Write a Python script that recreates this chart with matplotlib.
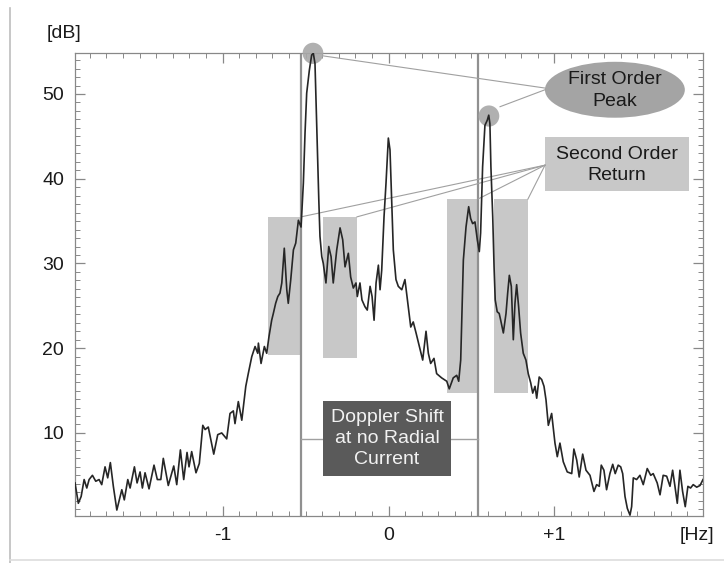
import matplotlib
matplotlib.use("Agg")
import matplotlib.pyplot as plt
from matplotlib.patches import Rectangle, Ellipse
from matplotlib.lines import Line2D
from matplotlib.ticker import MultipleLocator, FixedLocator

plt.rcParams['font.family'] = ['Liberation Sans', 'DejaVu Sans']

# Doppler spectrum
freq_hz = [
    -1.889, -1.869, -1.852, -1.834, -1.818, -1.804, -1.784, -1.764, -1.744, -1.728,
    -1.708, -1.692, -1.676, -1.658, -1.637, -1.617, -1.607, -1.592, -1.571, -1.557,
    -1.531, -1.515, -1.497, -1.483, -1.467, -1.443, -1.413, -1.393, -1.372, -1.357,
    -1.327, -1.294, -1.276, -1.254, -1.234, -1.214, -1.202, -1.186, -1.160, -1.140,
    -1.119, -1.105, -1.086, -1.053, -1.029, -1.005, -0.975, -0.955, -0.935, -0.925,
    -0.905, -0.884, -0.860, -0.845, -0.824, -0.804, -0.788, -0.784, -0.768, -0.748,
    -0.734, -0.720, -0.704, -0.694, -0.680, -0.667, -0.654, -0.643, -0.628, -0.613,
    -0.604, -0.589, -0.573, -0.559, -0.543, -0.527, -0.513, -0.503, -0.493, -0.477,
    -0.463, -0.453, -0.443, -0.437, -0.429, -0.420, -0.413, -0.402, -0.393, -0.377,
    -0.360, -0.346, -0.333, -0.312, -0.292, -0.276, -0.262, -0.242, -0.228, -0.212,
    -0.196, -0.188, -0.172, -0.160, -0.142, -0.128, -0.111, -0.099, -0.087, -0.075,
    -0.061, -0.051, -0.041, -0.027, -0.015, -0.001, 0.009, 0.019, 0.029, 0.045,
    0.059, 0.080, 0.099, 0.119, 0.134, 0.149, 0.166, 0.186, 0.206, 0.226,
    0.240, 0.254, 0.274, 0.290, 0.320, 0.351, 0.366, 0.390, 0.411, 0.423,
    0.435, 0.451, 0.467, 0.483, 0.495, 0.507, 0.521, 0.535, 0.547, 0.555,
    0.567, 0.581, 0.595, 0.604, 0.611, 0.617, 0.628, 0.636, 0.643, 0.655,
    0.667, 0.676, 0.692, 0.708, 0.718, 0.728, 0.740, 0.752, 0.762, 0.772,
    0.784, 0.796, 0.812, 0.828, 0.842, 0.857, 0.869, 0.883, 0.893, 0.908,
    0.923, 0.937, 0.949, 0.963, 0.983, 1.003, 1.017, 1.033, 1.053, 1.077,
    1.104, 1.117, 1.134, 1.149, 1.170, 1.190, 1.214, 1.238, 1.254, 1.270,
    1.282, 1.298, 1.314, 1.334, 1.351, 1.366, 1.384, 1.399, 1.411, 1.425,
    1.439, 1.455, 1.465, 1.475, 1.495, 1.515, 1.535, 1.559, 1.580, 1.595,
    1.619, 1.636, 1.655, 1.676, 1.696, 1.712, 1.726, 1.740, 1.756, 1.772,
    1.788, 1.804, 1.820, 1.836, 1.857, 1.877, 1.895,
]
level_db = [
    4.1, 1.7, 2.5, 4.5, 3.5, 4.5, 5.0, 4.3, 4.5, 3.9,
    6.0, 4.7, 6.5, 3.7, 0.9, 2.5, 3.3, 2.1, 4.5, 3.5,
    6.0, 4.1, 5.4, 3.5, 5.3, 3.4, 6.2, 4.5, 4.5, 7.0,
    3.8, 6.1, 3.9, 8.0, 4.5, 7.7, 6.0, 7.8, 5.3, 6.4,
    10.9, 10.4, 10.7, 7.5, 9.8, 10.0, 9.3, 12.3, 12.6, 11.1,
    13.7, 11.5, 15.5, 17.0, 19.0, 20.2, 19.4, 20.6, 18.2, 20.2,
    19.4, 21.4, 23.3, 24.1, 25.3, 26.1, 26.5, 27.7, 31.8, 26.9,
    25.3, 28.1, 31.6, 32.4, 35.1, 34.3, 39.5, 45.4, 50.1, 52.8,
    54.6, 54.8, 53.6, 49.3, 43.4, 37.5, 33.2, 30.8, 30.0, 27.7,
    32.0, 30.8, 27.7, 31.6, 34.2, 32.8, 29.6, 31.2, 28.4, 27.1,
    27.7, 26.1, 27.7, 25.7, 24.9, 24.5, 27.3, 26.1, 23.3, 27.7,
    29.8, 26.9, 29.2, 35.5, 39.5, 44.8, 43.4, 37.5, 31.6, 28.1,
    27.3, 26.9, 28.1, 24.9, 22.5, 23.1, 21.8, 20.2, 18.6, 22.0,
    19.4, 18.2, 18.8, 17.0, 16.5, 16.1, 15.2, 16.5, 16.8, 16.1,
    18.6, 30.4, 34.3, 36.7, 35.3, 34.7, 34.9, 32.8, 31.4, 33.6,
    41.4, 46.3, 46.9, 47.5, 46.5, 41.4, 35.5, 29.6, 25.7, 24.3,
    24.1, 23.3, 21.8, 24.1, 26.5, 28.6, 27.3, 21.0, 25.3, 27.5,
    24.9, 21.8, 19.4, 18.6, 17.0, 15.9, 14.7, 15.5, 14.1, 16.6,
    16.3, 15.5, 13.9, 10.9, 12.3, 8.8, 7.2, 8.8, 6.6, 5.4,
    5.2, 8.1, 6.8, 4.8, 7.5, 5.6, 5.0, 3.1, 3.9, 3.7,
    6.2, 5.6, 3.3, 5.2, 6.3, 5.2, 6.2, 6.0, 5.2, 2.5,
    1.1, 0.3, 1.3, 4.7, 4.5, 5.0, 3.9, 5.8, 5.0, 5.2,
    4.1, 2.7, 5.0, 4.9, 3.7, 5.6, 3.7, 1.7, 5.6, 3.1,
    1.3, 3.7, 3.5, 3.9, 3.6, 3.8, 4.5,
]

# second order regions: (f_lo, f_hi, db_lo, db_hi)
second_order_boxes = [
    (-0.726, -0.527, 19.2, 35.5),
    (-0.395, -0.190, 18.9, 35.5),
    (0.352, 0.539, 14.7, 37.6),
    (0.636, 0.840, 14.7, 37.6),
]
# first order peaks (f, dB)
peak_f = [-0.455, 0.605]
peak_db = [54.8, 47.4]
# Bragg lines (Doppler shift with no radial current)
bragg_f = [-0.527, 0.539]
bragg_link_db = 9.3

x_ticks = [-1, 0, 1]
x_tick_labels = ["-1", "0", "+1"]
y_ticks = [10, 20, 30, 40, 50]

fig = plt.figure(figsize=(7.24, 5.63), dpi=100)
ax = fig.add_axes([0.1036, 0.0835, 0.8674, 0.8224])

line_grey = "#a0a0a0"
box_grey = "#c8c8c8"

for f0, f1, d0, d1 in second_order_boxes:
    ax.add_patch(Rectangle((f0, d0), f1 - f0, d1 - d0, facecolor=box_grey,
                           edgecolor="none", zorder=1))

for fb in bragg_f:
    ax.axvline(fb, color="#909090", lw=1.6, zorder=2)
ax.plot(bragg_f, [bragg_link_db, bragg_link_db], color=line_grey, lw=1.0, zorder=2)

ax.plot(freq_hz, level_db, color="#262626", lw=1.2, zorder=4)

for pf, pd in zip(peak_f, peak_db):
    ax.add_patch(Ellipse((pf, pd), 0.125, 2.5, facecolor="#a8a8a8", edgecolor="none",
                         alpha=0.9, zorder=3, clip_on=False))

# callout boxes
ax.add_patch(Ellipse((1.364, 50.5), 0.843, 6.6, facecolor="#a4a4a4", edgecolor="none",
                     zorder=3, clip_on=False))
ax.text(1.364, 50.4, "First Order\nPeak", ha="center", va="center", fontsize=14,
        color="#1a1a1a", linespacing=1.35, zorder=5)

ax.add_patch(Rectangle((0.943, 38.5), 0.867, 6.4, facecolor=box_grey, edgecolor="none",
                       zorder=3))
ax.text(1.376, 41.6, "Second Order\nReturn", ha="center", va="center", fontsize=14,
        color="#1a1a1a", linespacing=1.35, zorder=5)

ax.add_patch(Rectangle((-0.395, 4.93), 0.772, 8.85, facecolor="#5a5a5a", edgecolor="none",
                       zorder=5))
ax.text(-0.009, 9.3, "Doppler Shift\nat no Radial\nCurrent", ha="center", va="center",
        fontsize=14, color="#f2f2f2", linespacing=1.3, zorder=6)

# leader lines
ax.plot([-0.395, 0.943], [54.5, 50.7], color=line_grey, lw=0.8, zorder=3, clip_on=False)
ax.plot([0.672, 0.943], [48.5, 50.5], color=line_grey, lw=0.8, zorder=3)
for f0, f1, d0, d1 in second_order_boxes:
    ax.plot([f1, 0.943], [d1, 41.6], color=line_grey, lw=0.8, zorder=3)

ax.set_xlim(-1.889, 1.895)
ax.set_ylim(0.2, 54.84)

ax.xaxis.set_major_locator(FixedLocator(x_ticks))
ax.set_xticklabels(x_tick_labels)
ax.xaxis.set_minor_locator(MultipleLocator(0.1))
ax.yaxis.set_major_locator(FixedLocator(y_ticks))
ax.yaxis.set_minor_locator(MultipleLocator(1))
ax.tick_params(which="both", direction="in", top=True, right=True, color="#888888",
               labelsize=14, labelcolor="#1a1a1a")
ax.tick_params(which="major", length=7, width=0.9, pad=8)
ax.tick_params(which="minor", length=3.5, width=0.7)
for sp in ax.spines.values():
    sp.set_color("#888888")
    sp.set_linewidth(0.9)

fig.text(64 / 724, 1 - 33 / 563, "[dB]", ha="center", va="center", fontsize=14,
         color="#1a1a1a")
fig.text(697 / 724, 1 - 535 / 563, "[Hz]", ha="center", va="center", fontsize=14,
         color="#1a1a1a")

# faint frame of the original figure
fig.add_artist(Line2D([10 / 724, 10 / 724], [0.0, 1 - 8 / 563], color="#bdbdbd", lw=1.2))
fig.add_artist(Line2D([10 / 724, 1.0], [1 - 560 / 563, 1 - 560 / 563], color="#dddddd", lw=1.2))

fig.savefig("out.png", dpi=100)
